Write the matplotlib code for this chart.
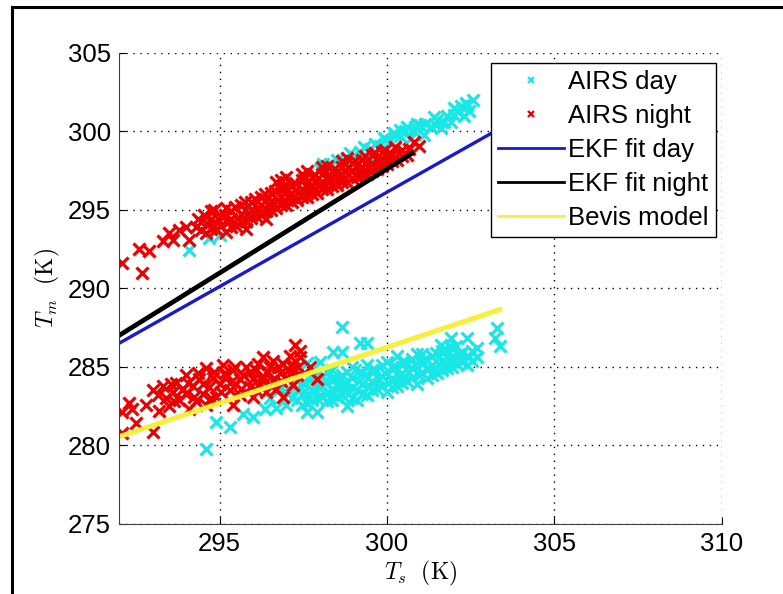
import matplotlib
matplotlib.use('Agg')
import matplotlib.pyplot as plt
from matplotlib.lines import Line2D

plt.rcParams['font.family'] = ['Liberation Sans', 'DejaVu Sans']
plt.rcParams['mathtext.fontset'] = 'cm'

# AIRS day (cyan): upper cluster, lower cluster, then the in-between rows
day_x = [294.1, 294.7, 295.0, 295.8, 296.0, 296.5, 297.0, 297.5, 298.5, 299.0, 299.5, 300.0,
         298.0, 298.3, 298.7, 299.0, 299.2, 299.5, 299.8, 300.1, 300.4, 300.4, 300.7, 300.8,
         301.0, 301.1, 301.3, 301.5, 301.6, 301.8, 301.9, 302.1, 302.2, 302.3, 302.57, 302.0,
         300.2, 300.9, 301.4, 302.4, 299.9, 300.6,
         298.1, 298.5, 298.9, 299.3, 299.65, 299.95, 300.25, 300.55, 300.85, 301.15, 301.45,
         301.7, 302.0, 302.35, 302.45,
         294.6, 294.9, 295.3, 295.7, 296.0, 296.36, 296.7, 296.5, 297.6, 297.9, 298.66, 298.4,
         298.66, 299.2, 299.4, 303.28, 303.22, 303.37, 302.7, 302.7, 302.4, 301.9, 301.6, 298.0,
         297.6,
         297.0, 297.05, 297.3, 297.35, 297.25, 297.6, 297.65, 297.55, 297.9, 297.95, 297.85,
         298.2, 298.25, 298.15, 298.2, 298.5, 298.55, 298.45, 298.8, 298.85, 298.75, 298.8,
         299.1, 299.15, 299.05, 299.1, 299.4, 299.45, 299.35, 299.4, 299.7, 299.75, 299.65,
         300.0, 300.05, 299.95, 300.0, 300.3, 300.35, 300.25, 300.3, 300.6, 300.65, 300.55,
         300.9, 300.95, 300.85, 300.9, 301.2, 301.25, 301.15, 301.5, 301.55, 301.45,
         301.8, 301.85, 301.75, 302.1, 302.15, 302.05, 302.4, 302.45, 296.8, 296.3,
         297.15, 297.15, 297.45, 297.45, 297.45, 297.75, 297.75, 297.75, 298.05, 298.05, 298.05,
         298.35, 298.35, 298.35, 298.35, 298.65, 298.65, 298.65, 298.95, 298.95, 298.95, 298.95,
         299.25, 299.25, 299.25, 299.55, 299.55, 299.55, 299.85, 299.85, 299.85,
         300.15, 300.15, 300.15, 300.45, 300.45, 300.45, 300.75, 300.75, 300.75,
         301.05, 301.05, 301.05, 301.35, 301.35, 301.35, 301.65, 301.65, 301.65,
         301.95, 301.95, 301.95, 302.25, 302.25, 302.55, 302.55]
day_y = [292.45, 293.2, 293.4, 294.2, 294.8, 295.3, 295.8, 296.3, 297.2, 297.6, 298.1, 298.5,
         297.6, 297.9, 298.2, 298.4, 298.7, 298.9, 299.1, 299.4, 299.7, 300.1, 299.5, 300.0,
         300.4, 299.8, 300.3, 300.7, 300.2, 301.0, 300.6, 301.3, 301.6, 301.0, 302.0, 301.05,
         299.9, 300.5, 300.9, 301.7, 299.6, 300.3,
         297.9, 298.2, 298.6, 299.0, 299.2, 299.5, 299.8, 300.0, 300.3, 300.5, 300.4,
         300.6, 301.5, 301.8, 301.3,
         279.8, 281.5, 281.2, 282.0, 281.8, 282.3, 282.4, 283.0, 282.1, 282.1, 287.55, 285.95,
         285.95, 286.5, 286.5, 287.5, 286.85, 286.3, 286.2, 285.6, 286.85, 286.85, 286.4, 285.3,
         285.25,
         282.6, 283.3, 282.9, 283.6, 284.2, 282.7, 283.3, 284.0, 283.0, 283.7, 284.4,
         282.8, 283.4, 284.1, 284.7, 283.1, 283.7, 284.3, 282.5, 283.3, 284.0, 284.7,
         283.5, 284.1, 284.8, 282.9, 283.2, 283.8, 284.5, 285.1, 283.6, 284.2, 284.8,
         283.4, 284.0, 284.6, 285.3, 283.8, 284.4, 285.0, 285.7, 284.1, 284.7, 285.3,
         283.9, 284.5, 285.1, 285.8, 284.3, 284.9, 285.5, 284.6, 285.2, 285.9,
         284.9, 285.5, 286.1, 285.2, 285.8, 286.3, 285.1, 285.6, 283.6, 283.9,
         283.0, 283.9, 282.6, 283.3, 284.0, 282.9, 283.6, 284.3, 283.1, 283.8, 284.4,
         282.9, 283.5, 284.2, 284.8, 283.2, 283.9, 284.5, 283.0, 283.7, 284.3, 285.0,
         283.3, 283.9, 284.6, 283.5, 284.1, 284.8, 283.8, 284.4, 285.1,
         283.7, 284.3, 285.0, 284.0, 284.6, 285.3, 284.3, 284.9, 285.5,
         284.6, 285.2, 285.8, 284.5, 285.1, 285.7, 284.8, 285.4, 286.0,
         285.0, 285.6, 286.2, 285.3, 285.9, 285.4, 286.0]

# AIRS night (red): upper cluster, lower cluster, then the in-between rows
night_x = [292.1, 292.7, 292.6, 292.9, 293.3, 293.6, 293.8, 294.1, 294.0, 293.5,
           294.3, 294.35, 294.6, 294.65, 294.55, 294.9, 294.95, 294.85,
           295.2, 295.25, 295.15, 295.2, 295.5, 295.55, 295.45,
           295.8, 295.85, 295.75, 295.8, 296.1, 296.15, 296.05,
           296.4, 296.45, 296.35, 296.4, 296.7, 296.75, 296.65, 296.7,
           297.0, 297.05, 296.95, 297.0, 297.3, 297.35, 297.25,
           297.6, 297.65, 297.55, 297.6, 297.9, 297.95, 297.85,
           298.2, 298.25, 298.15, 298.2, 298.5, 298.55, 298.45,
           298.8, 298.85, 298.75, 298.8, 299.1, 299.15, 299.05,
           299.4, 299.45, 299.35, 299.7, 299.75, 299.65,
           300.0, 300.05, 299.95, 300.3, 300.35, 300.25, 300.6, 300.65, 300.8, 300.95,
           294.45, 294.45, 294.75, 294.75, 294.75, 295.05, 295.05, 295.35, 295.35, 295.35,
           295.65, 295.65, 295.65, 295.95, 295.95, 295.95, 296.25, 296.25, 296.25,
           296.55, 296.55, 296.55, 296.85, 296.85, 296.85, 296.85, 297.15, 297.15, 297.15,
           297.45, 297.45, 297.45, 297.45, 297.75, 297.75, 297.75, 298.05, 298.05, 298.05, 298.05,
           298.35, 298.35, 298.35, 298.65, 298.65, 298.65, 298.65, 298.95, 298.95, 298.95,
           299.25, 299.25, 299.25, 299.55, 299.55, 299.55, 299.85, 299.85, 299.85,
           300.15, 300.15, 300.45, 300.45,
           292.1, 292.1, 292.3, 292.5, 293.0, 292.4, 292.8, 293.0, 293.2, 293.4,
           293.3, 293.5, 293.6, 293.7, 293.8, 294.0, 294.0, 294.1, 294.2, 294.3,
           294.4, 294.5, 294.6, 294.6, 294.7, 294.8, 294.9, 295.0, 295.1, 295.4,
           295.2, 295.3, 295.4, 295.5, 295.6, 295.7, 295.8, 295.9, 296.0, 296.0,
           296.1, 296.2, 296.3, 296.3, 296.4, 296.5, 296.6, 296.6, 296.7, 296.8,
           296.9, 296.9, 297.0, 297.1, 297.2, 297.2, 297.25, 297.4, 297.4, 297.3,
           297.7, 297.9,
           293.15, 293.55, 293.65, 293.9, 294.05, 294.25, 294.35, 294.5, 294.75, 294.85,
           295.05, 295.15, 295.3, 295.45, 295.6, 295.65, 295.9, 296.05, 296.15, 296.25,
           296.45, 296.55, 296.75, 296.85, 297.05, 297.15, 297.35]
night_y = [291.6, 291.0, 292.5, 292.4, 293.0, 293.1, 293.7, 293.1, 293.9, 293.5,
           293.9, 294.4, 293.5, 294.1, 294.7, 293.8, 294.4, 295.0,
           293.6, 294.2, 294.7, 295.1, 294.0, 294.5, 295.2,
           294.3, 294.8, 295.5, 293.8, 294.6, 295.1, 295.7,
           294.9, 295.4, 296.0, 294.4, 295.1, 295.6, 296.2, 296.8,
           295.3, 295.9, 296.4, 297.1, 295.6, 296.1, 296.7,
           295.8, 296.4, 297.0, 297.5, 296.1, 296.6, 297.2,
           296.3, 296.9, 297.4, 297.8, 296.6, 297.1, 297.6,
           296.8, 297.3, 297.9, 298.3, 297.1, 297.6, 298.1,
           297.3, 297.8, 298.4, 297.6, 298.1, 298.6,
           297.9, 298.4, 298.8, 298.2, 298.6, 299.0, 298.5, 298.9, 299.3, 299.1,
           293.7, 294.25, 293.8, 294.4, 294.9, 294.0, 294.6, 293.9, 294.4, 294.95,
           294.2, 294.75, 295.3, 294.5, 295.0, 295.5, 294.7, 295.3, 295.85,
           295.0, 295.5, 296.1, 295.3, 295.8, 296.4, 296.9, 295.5, 296.0, 296.6,
           295.8, 296.3, 296.9, 297.3, 296.0, 296.5, 297.1, 296.3, 296.8, 297.3, 297.7,
           296.5, 297.0, 297.5, 296.8, 297.2, 297.7, 298.1, 297.0, 297.5, 298.0,
           297.2, 297.7, 298.2, 297.5, 297.95, 298.5, 297.8, 298.25, 298.7,
           298.1, 298.5, 298.4, 298.8,
           280.8, 282.1, 282.7, 281.4, 280.85, 282.3, 282.6, 283.5, 282.2, 283.0,
           283.8, 282.5, 283.4, 284.0, 282.9, 284.5, 283.3, 282.3, 283.8, 282.8,
           284.2, 283.3, 284.9, 282.6, 283.7, 284.3, 283.1, 283.9, 285.1, 282.6,
           284.4, 283.5, 284.8, 283.9, 283.2, 284.5, 285.0, 283.7, 284.2, 283.1,
           284.8, 283.9, 285.6, 284.4, 283.4, 285.0, 285.4, 284.1, 283.6, 284.6,
           283.1, 285.2, 284.3, 285.7, 283.85, 284.9, 286.4, 286.0, 285.6, 284.5,
           285.0, 284.2,
           283.2, 283.9, 282.8, 283.6, 284.0, 283.1, 284.6, 283.9, 283.0, 284.7,
           283.4, 284.6, 284.0, 285.0, 284.2, 283.6, 284.7, 283.6, 285.2, 284.2,
           284.7, 283.8, 285.0, 284.1, 284.8, 285.2, 285.0]

# fitted lines (end points)
ekf_day_x = [292.0, 303.3]
ekf_day_y = [286.5, 300.1]
ekf_night_x = [292.0, 300.75]
ekf_night_y = [287.0, 298.6]
bevis_x = [292.0, 303.37]
bevis_y = [280.55, 288.65]

fig = plt.figure(figsize=(7.83, 5.94), dpi=100)
ax = fig.add_axes([0.152, 0.118, 0.770, 0.793])

ax.plot(day_x, day_y, 'x', color='#19e6e6', ms=8, mew=2.3, label='AIRS day')
ax.plot(night_x, night_y, 'x', color='#ee0000', ms=8, mew=2.3, label='AIRS night')
ax.plot(ekf_day_x, ekf_day_y, '-', color='#1a1acc', lw=2.4, label='EKF fit day')
ax.plot(ekf_night_x, ekf_night_y, '-', color='black', lw=3.4, label='EKF fit night')
ax.plot(bevis_x, bevis_y, '-', color='#f5f03a', lw=3.6, label='Bevis model')

ax.set_xlim(292, 310)
ax.set_ylim(275, 305)
ax.set_xticks([295, 300, 305, 310])
ax.set_yticks([275, 280, 285, 290, 295, 300, 305])
ax.tick_params(direction='in', length=5, labelsize=18.5, pad=6)
ax.grid(True, color='black', linestyle=(0, (1, 4)), linewidth=1.0)
ax.spines['top'].set_visible(False)
ax.spines['right'].set_visible(False)
ax.spines['left'].set_color('#404040')
ax.spines['bottom'].set_color('#404040')

ax.set_xlabel(r'$T_s\ \ \mathrm{(K)}$', fontsize=17, labelpad=2)
ax.set_ylabel(r'$T_m\ \ \mathrm{(K)}$', fontsize=17, labelpad=4)

leg = ax.legend(loc='upper right', bbox_to_anchor=(0.99, 0.979), fontsize=18.5,
                numpoints=1, handlelength=2.55, handletextpad=0.15, labelspacing=0.38,
                borderpad=0.3, borderaxespad=0, fancybox=False, framealpha=1)
leg.get_frame().set_edgecolor('black')
leg.get_frame().set_linewidth(1.0)
for h in leg.legend_handles:
    if h.get_linestyle() == '-':
        h.set_linewidth(2.0)
    else:
        h.set_markersize(5)
        h.set_markeredgewidth(1.6)

# outer frame lines (left and top) of the original screenshot
fig.add_artist(Line2D([0.0153, 0.0153], [0.0, 0.988], color='black', lw=2.2))
fig.add_artist(Line2D([0.0153, 1.0], [0.988, 0.988], color='black', lw=2.2))

fig.savefig('out.png', dpi=100)
